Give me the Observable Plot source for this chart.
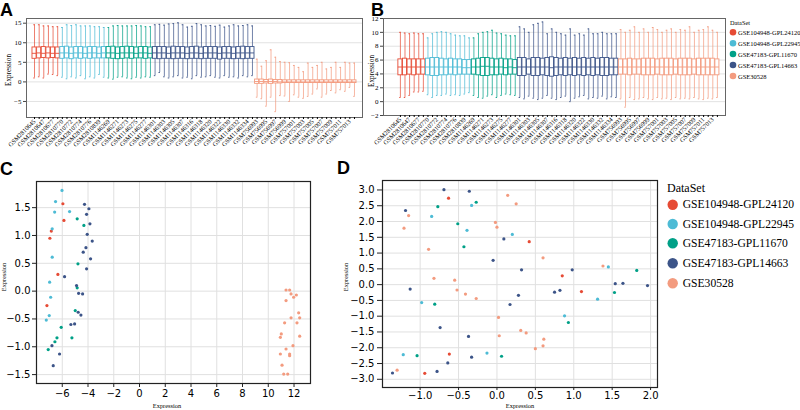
<!DOCTYPE html>
<html><head><meta charset="utf-8">
<script src="https://cdn.jsdelivr.net/npm/d3@7"></script>
<script src="https://cdn.jsdelivr.net/npm/@observablehq/plot@0.6"></script>
<style>
body{margin:0;background:#fff;}
#fig{position:relative;width:800px;height:410px;overflow:hidden;background:#fff;}
#fig svg{position:absolute;left:0;top:0;}
</style></head><body><div id="fig"></div>
<script>
// ---------- data ----------
const groups = ["GSE104948-GPL24120","GSE104948-GPL22945","GSE47183-GPL11670","GSE47183-GPL14663","GSE30528"];
const palette = ["#E64B35","#4DBBD5","#00A087","#3C5488","#F39B7F"];
const groupSizes = [6,10,10,22,22];
const sampleIds = [
 "GSM2810645","GSM2810646","GSM2810647","GSM2810648","GSM2810677","GSM2810678",
 "GSM2810770","GSM2810771","GSM2810772","GSM2810773","GSM2810774","GSM2810775","GSM2810776","GSM2810777","GSM2810839","GSM2810840",
 "GSM1146269","GSM1146270","GSM1146271","GSM1146272","GSM1146273","GSM1146274","GSM1146275","GSM1146276","GSM1146277","GSM1146278",
 "GSM1146301","GSM1146302","GSM1146303","GSM1146304","GSM1146305","GSM1146306","GSM1146307","GSM1146308",
 "GSM1146316","GSM1146317","GSM1146318","GSM1146319","GSM1146320","GSM1146321","GSM1146322","GSM1146323",
 "GSM1146330","GSM1146331","GSM1146332","GSM1146333","GSM1146334","GSM1146335",
 "GSM756993","GSM756994","GSM756995","GSM756996","GSM756997","GSM756998","GSM756999","GSM757000","GSM757001","GSM757002","GSM757003",
 "GSM757004","GSM757005","GSM757006","GSM757007","GSM757008","GSM757009","GSM757010","GSM757011","GSM757012","GSM757013","GSM757014"];
const tickLabels = [
 "GSM2810645","GSM2810647","GSM2810677","GSM2810770","GSM2810772","GSM2810774","GSM2810776","GSM2810839",
 "GSM1146269","GSM1146271","GSM1146273","GSM1146275","GSM1146277","GSM1146301","GSM1146303","GSM1146305","GSM1146307",
 "GSM1146316","GSM1146318","GSM1146320","GSM1146322","GSM1146330","GSM1146332","GSM1146334",
 "GSM756993","GSM756995","GSM756997","GSM756999","GSM757001","GSM757003","GSM757005","GSM757007","GSM757009","GSM757011","GSM757013"];

// Panel A box statistics
const aHi = [14.6,14.6,14.3,14.3,14.1,14.1,
 13.9,14.6,14.4,14.6,14.3,14.3,14.3,14.1,14.1,13.9,
 13.9,14.3,14.4,14.3,14.3,14.3,14.4,14.3,14.1,14.1,
 14.6,14.7,14.5,14.8,14.9,15.1,14.6,14.0,14.2,14.9,14.6,14.3,14.4,14.2,14.5,14.0,14.3,14.6,14.3,14.4,14.6,14.3,
 5.8,4.0,5.4,8.2,6.3,5.2,5.0,4.9,4.2,3.7,2.6,4.8,3.7,4.2,5.0,3.3,3.7,5.0,3.7,5.0,4.8,4.8];
const aLo = [1.0,1.3,1.0,2.0,1.9,1.6,
 1.2,0.8,1.3,1.0,1.6,0.8,1.3,1.0,1.9,1.2,
 1.0,0.7,1.2,1.3,1.0,0.8,1.2,1.0,1.3,1.2,
 1.6,2.4,1.3,1.0,1.3,1.6,1.0,1.2,0.8,1.6,1.2,1.3,1.6,1.2,1.0,1.6,1.2,1.3,1.0,1.6,1.3,1.6,
 -3.9,-4.3,-6.2,-3.9,-7.6,-3.5,-3.6,-5.0,-3.3,-3.9,-4.2,-3.7,-3.1,-1.8,-3.9,-3.1,-2.2,-2.8,-2.0,-2.4,-1.4,-3.7];
const aQ1 = [5.9,6.0,6.1,6.0,6.1,6.0,
 5.9,6.0,5.8,6.0,5.9,6.0,5.9,6.0,6.0,6.0,
 6.0,5.9,5.8,5.9,6.0,5.9,6.0,6.0,5.9,6.0,
 5.9,5.8,5.9,5.9,5.8,5.9,5.9,5.8,5.9,5.9,5.8,5.9,5.9,5.9,5.7,5.9,5.9,5.8,5.9,5.8,5.9,5.9,
 -0.5,-0.5,-0.4,-0.5,-0.4,-0.4,-0.3,-0.3,-0.3,-0.3,-0.3,-0.3,-0.3,-0.3,-0.3,-0.3,-0.3,-0.3,-0.3,-0.3,-0.3,-0.3];
const aMed = [7.3,7.4,7.3,7.4,7.3,7.3,
 7.4,7.4,7.3,7.4,7.4,7.3,7.4,7.4,7.3,7.4,
 7.4,7.4,7.3,7.4,7.4,7.4,7.3,7.4,7.4,7.3,
 7.4,7.4,7.4,7.3,7.4,7.4,7.4,7.3,7.4,7.4,7.3,7.4,7.4,7.4,7.3,7.4,7.4,7.3,7.4,7.4,7.4,7.4,
 0.1,0.1,0.1,0.1,0.1,0.0,0.0,0.0,0.0,0.0,0.0,0.0,0.0,0.0,0.0,0.0,0.0,0.0,0.0,0.0,0.0,0.0];
const aQ3 = [8.8,8.8,8.9,8.8,8.8,8.8,
 8.9,9.0,8.8,8.9,8.9,8.8,8.9,8.9,8.8,8.9,
 8.9,9.0,8.8,8.9,9.0,8.9,8.8,8.9,8.9,8.8,
 8.9,8.9,8.9,8.8,9.0,8.9,8.9,8.8,8.9,9.0,8.8,8.9,8.9,8.9,8.8,8.9,8.9,8.8,8.9,9.0,8.9,8.9,
 0.6,0.6,0.5,0.6,0.5,0.5,0.4,0.4,0.4,0.4,0.4,0.4,0.4,0.4,0.4,0.4,0.4,0.4,0.4,0.4,0.4,0.4];

// Panel B box statistics
const bHi = [10.0,9.9,9.8,9.9,9.8,9.8,
 9.2,9.8,10.0,10.1,10.0,9.8,9.6,9.5,9.5,9.2,
 9.2,9.8,10.0,10.1,10.3,9.9,9.8,9.6,9.5,9.5,
 10.8,10.5,10.0,11.1,11.3,11.5,9.8,10.5,10.0,9.8,9.6,10.5,9.6,9.8,9.6,10.5,9.8,9.8,10.0,9.8,9.8,9.8,
 10.4,10.0,10.3,10.8,10.0,10.5,10.0,10.7,10.4,10.0,10.3,10.5,10.0,10.4,10.3,10.8,10.0,10.3,10.4,10.8,10.3,10.0];
const bLo = [0.6,0.6,0.9,1.4,1.4,1.5,
 1.0,0.6,0.9,0.9,1.1,0.9,1.0,0.9,1.1,1.3,
 0.9,0.6,0.5,0.8,1.0,0.6,0.9,1.1,1.0,0.9,
 0.6,0.4,0.8,0.5,0.3,0.5,0.9,0.5,0.3,0.6,0.8,0.0,0.5,0.7,0.9,0.4,0.6,0.5,0.8,0.4,0.7,0.6,
 0.4,-0.8,0.6,0.3,0.4,0.6,0.4,0.3,0.6,0.4,0.5,0.3,0.6,0.4,0.5,0.4,0.6,0.4,0.3,0.5,0.4,0.6];
const bQ1 = [3.8,3.8,3.9,3.8,3.9,3.9,
 3.8,3.7,3.7,3.8,3.8,3.9,3.8,3.9,3.9,3.9,
 3.9,3.8,3.7,3.7,3.8,3.8,3.9,3.8,3.9,3.9,
 3.7,3.7,3.9,3.7,3.7,3.8,3.7,3.6,3.7,3.8,3.7,3.8,3.7,3.8,3.7,3.8,3.7,3.8,3.7,3.7,3.8,3.8,
 3.9,3.9,3.8,3.9,3.9,3.8,3.8,3.8,3.9,3.8,3.8,3.8,3.9,3.8,3.8,3.8,3.9,3.8,3.8,3.8,3.8,3.8];
const bMed = [5.0,5.0,5.0,5.0,5.0,5.0,
 5.0,5.0,5.0,5.0,5.0,5.0,5.0,5.0,4.9,4.9,
 5.0,5.0,5.1,5.1,5.0,5.0,5.0,4.9,5.0,4.9,
 5.0,5.0,5.0,5.0,5.0,5.0,5.0,4.9,5.0,5.0,5.0,5.0,5.0,5.0,5.0,5.0,5.0,5.0,5.0,5.0,5.0,5.0,
 5.0,5.0,5.0,5.0,5.0,5.0,5.0,5.0,5.0,5.0,5.0,5.0,5.0,5.0,5.0,5.0,5.0,5.0,5.0,5.0,5.0,5.0];
const bQ3 = [6.1,6.2,6.1,6.1,6.1,6.1,
 6.2,6.3,6.3,6.2,6.1,6.2,6.1,6.1,6.0,6.0,
 6.1,6.2,6.3,6.3,6.2,6.1,6.2,6.1,6.1,6.0,
 6.3,6.3,6.1,6.3,6.3,6.2,6.3,6.4,6.3,6.2,6.3,6.2,6.3,6.2,6.3,6.2,6.3,6.2,6.3,6.3,6.2,6.2,
 6.1,6.1,6.2,6.1,6.1,6.2,6.2,6.2,6.1,6.2,6.2,6.2,6.1,6.2,6.2,6.2,6.1,6.2,6.2,6.2,6.2,6.1];

// Panel C points (group index into groups)
const cX = [-5.95,-5.87,-6.85,-6.96,-6.34,-7.19,
 -6.02,-6.52,-6.59,-5.43,-6.78,-6.78,-6.98,-6.90,-7.01,-7.24,
 -4.84,-4.32,-4.78,-4.84,-4.99,-6.08,-6.41,-5.25,-6.57,-7.09,
 -4.27,-3.93,-4.11,-3.85,-4.06,-3.67,-4.16,-4.37,-3.80,-4.11,-5.82,-4.89,-4.73,-4.42,-4.76,-4.55,-5.33,-5.04,-6.80,-6.21,-6.70,
 11.38,11.66,11.77,11.97,12.18,11.38,12.36,11.27,11.77,12.23,12.44,10.94,11.01,12.44,11.38,11.92,11.66,11.66,10.94,11.07,11.20,11.51];
const cY = [1.57,1.27,1.08,0.95,0.30,-0.26,
 1.81,1.61,1.42,1.43,1.12,0.61,0.16,-0.11,-0.44,-0.52,
 1.30,1.18,0.49,0.06,-0.35,-0.65,-0.84,-0.84,-0.91,-1.05,
 1.56,1.48,1.38,1.21,1.02,0.90,0.78,0.70,0.58,0.40,0.26,0.10,-0.04,-0.05,-0.38,-0.43,-0.60,-0.59,-0.98,-1.13,-1.34,
 0.02,0.02,-0.05,-0.11,-0.07,-0.17,-0.39,-0.57,-0.48,-0.57,-0.48,-0.83,-0.77,-0.81,-1.04,-0.98,-1.13,-1.16,-1.13,-1.33,-1.49,-1.49];
const cG = [0,0,0,0,0,0, 1,1,1,1,1,1,1,1,1,1, 2,2,2,2,2,2,2,2,2,2,
 3,3,3,3,3,3,3,3,3,3,3,3,3,3,3,3,3,3,3,3,3,
 4,4,4,4,4,4,4,4,4,4,4,4,4,4,4,4,4,4,4,4,4,4];

// Panel D points
const dX = [-0.63,0.42,0.85,1.10,-0.62,-0.94,
 -0.85,-0.33,-0.39,0.20,1.31,-0.98,0.88,-1.22,-0.13,1.45,
 -0.77,-0.27,-0.51,-0.43,-0.81,0.93,-1.04,0.06,1.82,1.53,
 -0.69,-0.36,-1.19,0.09,-0.05,0.32,0.98,-1.13,0.28,0.75,0.82,0.17,-0.74,-0.37,-0.64,-0.33,-1.36,-0.78,1.54,1.64,1.96,
 0.14,-1.15,-1.21,0.25,-0.02,0.00,-0.89,0.60,-0.82,-0.55,-0.52,-0.41,-0.27,0.02,0.31,0.38,0.03,0.61,0.60,0.50,-1.30,1.38];
const dY = [2.74,1.36,0.28,-0.22,-2.20,-2.81,
 2.16,2.51,1.72,1.59,-0.46,-0.57,-0.99,-2.22,-2.17,0.56,
 2.47,2.61,1.93,1.20,-0.62,-1.20,-2.25,-2.27,0.45,-0.25,
 3.01,2.96,2.35,1.45,0.77,0.47,0.47,-0.14,-0.34,-0.24,-0.18,-0.63,-1.36,-1.64,-2.48,-2.30,-2.80,-2.75,0.03,0.04,-0.03,
 2.83,2.19,1.79,2.56,1.97,1.82,1.12,0.85,0.20,0.14,-0.17,-0.30,-0.44,-1.04,-1.45,-1.53,-1.62,-1.73,-1.94,-2.03,-2.71,0.59];
const dG = [0,0,0,0,0,0, 1,1,1,1,1,1,1,1,1,1, 2,2,2,2,2,2,2,2,2,2,
 3,3,3,3,3,3,3,3,3,3,3,3,3,3,3,3,3,3,3,3,3,
 4,4,4,4,4,4,4,4,4,4,4,4,4,4,4,4,4,4,4,4,4,4];

const aTicks = [-5,0,5,10,15];
const bTicks = [-2,0,2,4,6,8,10,12];
const cXTicks = [-6,-4,-2,0,2,4,6,8,10,12];
const cYTicks = [-1.5,-1.0,-0.5,0.0,0.5,1.0,1.5];
const dXTicks = [-1.0,-0.5,0.0,0.5,1.0,1.5,2.0];
const dYTicks = [-3.0,-2.5,-2.0,-1.5,-1.0,-0.5,0.0,0.5,1.0,1.5,2.0,2.5,3.0];

// ---------- build ----------
const fig = document.getElementById("fig");
const colorScale = {domain: groups, range: palette};
const sampleGroup = groupSizes.flatMap((n, i) => Array(n).fill(groups[i]));
const labelSet = new Set(tickLabels);
const boxRows = (lo, q1, med, q3, hi) => sampleIds.map((id, i) => ({id, group: sampleGroup[i], lo: lo[i], q1: q1[i], med: med[i], q3: q3[i], hi: hi[i]}));

function boxPanel(rows, o) {
  return Plot.plot({
    width: 800, height: 410,
    marginLeft: o.ml, marginRight: o.mr, marginTop: o.mt, marginBottom: o.mb,
    style: {background: "transparent", overflow: "visible", fontFamily: "'Liberation Serif', serif", fontSize: "7px"},
    x: {domain: sampleIds, paddingInner: 0.12, paddingOuter: o.po, align: o.align, axis: null},
    y: {domain: o.ydom, axis: null},
    color: colorScale,
    marks: [
      Plot.gridY(o.ticks, {stroke: "#e2e2e2", strokeOpacity: 1}),
      Plot.frame({stroke: "#666"}),
      Plot.axisY(o.ticks, {tickSize: 3, tickPadding: 2, fontSize: 7, label: null, stroke: "#444"}),
      Plot.axisX(sampleIds, {tickSize: 2, tickPadding: 1, tickRotate: -45, fontSize: 6.3, label: null,
        tickFormat: d => labelSet.has(d) ? d : ""}),
      Plot.ruleX(rows, {x: "id", y1: "lo", y2: "hi", stroke: "group", strokeWidth: 0.9, strokeOpacity: 0.8}),
      Plot.tickY(rows, {x: "id", y: "lo", stroke: "group", strokeWidth: 0.9, insetLeft: 1.3, insetRight: 1.3}),
      Plot.tickY(rows, {x: "id", y: "hi", stroke: "group", strokeWidth: 0.9, insetLeft: 1.3, insetRight: 1.3}),
      Plot.barY(rows, {x: "id", y1: "q1", y2: "q3", fill: "white", stroke: "group", strokeWidth: 0.9}),
      Plot.tickY(rows, {x: "id", y: "med", stroke: "group", strokeWidth: 0.9})
    ]
  });
}

function scatterPanel(xs, ys, gs, o) {
  const rows = xs.map((x, i) => ({x, y: ys[i], group: groups[gs[i]]}));
  return Plot.plot({
    width: 800, height: 410,
    marginLeft: o.ml, marginRight: o.mr, marginTop: o.mt, marginBottom: o.mb,
    style: {background: "transparent", overflow: "visible", fontFamily: "'DejaVu Sans', sans-serif", fontSize: "10px"},
    x: {domain: o.xdom, axis: null},
    y: {domain: o.ydom, axis: null},
    color: colorScale,
    marks: [
      Plot.gridX(o.xt, {stroke: "#e0e0e0", strokeOpacity: 1}),
      Plot.gridY(o.yt, {stroke: "#e0e0e0", strokeOpacity: 1}),
      Plot.frame({stroke: "#222", strokeWidth: 1.2}),
      Plot.axisX(o.xt, {tickSize: o.tsx, tickPadding: o.tpx, fontSize: 10, label: null, tickFormat: o.fx, stroke: "#222"}),
      Plot.axisY(o.yt, {tickSize: o.tsy, tickPadding: o.tpy, fontSize: 10, label: null, tickFormat: d3.format(".1f"), stroke: "#222"}),
      Plot.dot(rows, {x: "x", y: "y", fill: "group", r: 1.6, stroke: "none"})
    ]
  });
}

fig.append(boxPanel(boxRows(aLo, aQ1, aMed, aQ3, aHi), {ml: 26, mr: 438, mt: 18, mb: 293, po: 1.29, align: 0.5, ydom: [-9.1, 16.2], ticks: aTicks}));
fig.append(boxPanel(boxRows(bLo, bQ1, bMed, bQ3, bHi), {ml: 383, mr: 75, mt: 18, mb: 295, po: 2.28, align: 0.71, ydom: [-2, 12], ticks: bTicks}));
fig.append(scatterPanel(cX, cY, cG, {ml: 36, mr: 490, mt: 181, mb: 27, xdom: [-8, 13.28], ydom: [-1.66, 1.97], xt: cXTicks, yt: cYTicks, fx: d3.format("d"), tsx: 4, tpx: 2, tsy: 4, tpy: 2}));
fig.append(scatterPanel(dX, dY, dG, {ml: 382, mr: 143, mt: 180, mb: 23, xdom: [-1.49, 2.09], ydom: [-3.26, 3.3], xt: dXTicks, yt: dYTicks, fx: d3.format(".1f"), tsx: 3, tpx: 1, tsy: 5, tpy: 3}));

// ---------- overlay text: panel letters, axis titles, legends ----------
const ov = d3.select(fig).append("svg").attr("width", 800).attr("height", 410).style("pointer-events", "none");
const letters = [["A", 0, 15.5], ["B", 371, 15.5], ["C", 0, 175], ["D", 337, 174]];
ov.selectAll("text.letter").data(letters).join("text").attr("class", "letter")
  .attr("x", d => d[1]).attr("y", d => d[2]).text(d => d[0])
  .style("font-family", "'Liberation Sans', Arial, sans-serif").style("font-weight", "bold").style("font-size", "18px");

const serif = "'Liberation Serif', 'Times New Roman', serif";
const yTitles = [[9, 70, 7.2], [372.5, 71, 7.2], [4.5, 277, 6.4], [347, 277, 6.4]];
ov.selectAll("text.yt").data(yTitles).join("text").attr("class", "yt")
  .attr("transform", d => `translate(${d[0]},${d[1]}) rotate(-90)`)
  .attr("text-anchor", "middle").attr("dominant-baseline", "middle")
  .style("font-family", serif).style("font-size", d => d[2] + "px").text("Expression");
const xTitles = [[167, 408], [520, 408]];
ov.selectAll("text.xt").data(xTitles).join("text").attr("class", "xt")
  .attr("x", d => d[0]).attr("y", d => d[1]).attr("text-anchor", "middle")
  .style("font-family", serif).style("font-size", "6.4px").text("Expression");

function legend(x0, yTitle, fsTitle, cx, ys, r, tx, fs) {
  ov.append("text").attr("x", x0).attr("y", yTitle).style("font-family", serif).style("font-size", fsTitle + "px").text("DataSet");
  groups.forEach((g, i) => {
    ov.append("circle").attr("cx", cx).attr("cy", ys[i]).attr("r", r).attr("fill", palette[i]);
    ov.append("text").attr("x", tx).attr("y", ys[i]).attr("dominant-baseline", "central")
      .style("font-family", serif).style("font-size", fs + "px").text(g);
  });
}
legend(730, 24.6, 6.3, 733, [32.3, 43.3, 54, 65, 76], 3.3, 738, 6.5);
legend(667, 192, 12, 672.7, [204.7, 224, 243.3, 263.3, 283.3], 5.2, 682.7, 11.6);
</script></body></html>
